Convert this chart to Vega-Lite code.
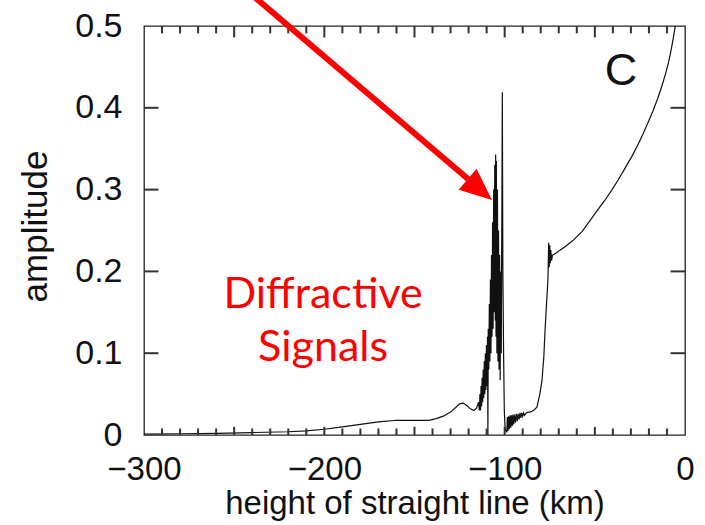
{
  "$schema": "https://vega.github.io/schema/vega-lite/v6.json",
  "width": 541,
  "height": 409,
  "autosize": {"type": "none"},
  "padding": {"left": 144, "top": 26, "right": 20, "bottom": 90},
  "background": "white",
  "config": {
    "view": {"stroke": "#222", "strokeWidth": 1.3},
    "axis": {
      "grid": false,
      "domain": false,
      "ticks": false,
      "tickSize": 0,
      "labelFont": "Liberation Sans",
      "titleFont": "Liberation Sans",
      "labelColor": "#111",
      "titleColor": "#111",
      "labelFontSize": 33,
      "titleFontSize": 33,
      "titleFontWeight": "normal"
    }
  },
  "datasets": {
    "curve": [
      {"x": -300, "y": 0.001}, {"x": -280, "y": 0.0015}, {"x": -260, "y": 0.002}, {"x": -240, "y": 0.003},
      {"x": -220, "y": 0.004}, {"x": -210, "y": 0.005}, {"x": -200, "y": 0.007}, {"x": -190, "y": 0.010},
      {"x": -180, "y": 0.013}, {"x": -170, "y": 0.016}, {"x": -160, "y": 0.018}, {"x": -150, "y": 0.018},
      {"x": -142, "y": 0.018}, {"x": -138, "y": 0.020}, {"x": -134, "y": 0.023}, {"x": -130, "y": 0.028},
      {"x": -127, "y": 0.034}, {"x": -125, "y": 0.038}, {"x": -123, "y": 0.039}, {"x": -121, "y": 0.036},
      {"x": -119, "y": 0.032}, {"x": -117, "y": 0.030}, {"x": -115.5, "y": 0.033}, {"x": -114.5, "y": 0.04},
      {"x": -114.0, "y": 0.03}, {"x": -113.7, "y": 0.05}, {"x": -113.4, "y": 0.03}, {"x": -113.1, "y": 0.06},
      {"x": -112.8, "y": 0.035}, {"x": -112.5, "y": 0.07}, {"x": -112.2, "y": 0.04}, {"x": -111.9, "y": 0.08},
      {"x": -111.6, "y": 0.045}, {"x": -111.3, "y": 0.09}, {"x": -111.0, "y": 0.05}, {"x": -110.7, "y": 0.10},
      {"x": -110.4, "y": 0.055}, {"x": -110.1, "y": 0.11}, {"x": -109.8, "y": 0.06}, {"x": -109.5, "y": 0.12},
      {"x": -109.3, "y": 0.0}, {"x": -109.1, "y": 0.13}, {"x": -108.8, "y": 0.08}, {"x": -108.5, "y": 0.16},
      {"x": -108.2, "y": 0.09}, {"x": -107.9, "y": 0.19}, {"x": -107.6, "y": 0.10}, {"x": -107.3, "y": 0.22},
      {"x": -107.0, "y": 0.12}, {"x": -106.7, "y": 0.26}, {"x": -106.4, "y": 0.13}, {"x": -106.1, "y": 0.30},
      {"x": -105.8, "y": 0.15}, {"x": -105.5, "y": 0.33}, {"x": -105.2, "y": 0.14}, {"x": -105.0, "y": 0.343},
      {"x": -104.8, "y": 0.12}, {"x": -104.6, "y": 0.335}, {"x": -104.3, "y": 0.10}, {"x": -104.0, "y": 0.30},
      {"x": -103.7, "y": 0.09}, {"x": -103.4, "y": 0.25}, {"x": -103.1, "y": 0.08}, {"x": -102.8, "y": 0.22},
      {"x": -102.5, "y": 0.067}, {"x": -102.2, "y": 0.20}, {"x": -101.9, "y": 0.10}, {"x": -101.5, "y": 0.30},
      {"x": -101.3, "y": 0.419}, {"x": -101.0, "y": 0.20}, {"x": -100.6, "y": 0.10}, {"x": -100.2, "y": 0.03},
      {"x": -99.8, "y": 0.01}, {"x": -99.4, "y": 0.005}, {"x": -98.8, "y": 0.004},
      {"x": -98.5, "y": 0.022}, {"x": -98.2, "y": 0.005}, {"x": -97.8, "y": 0.023}, {"x": -97.4, "y": 0.007},
      {"x": -97.0, "y": 0.024}, {"x": -96.6, "y": 0.009}, {"x": -96.2, "y": 0.024}, {"x": -95.8, "y": 0.011},
      {"x": -95.4, "y": 0.025}, {"x": -95.0, "y": 0.013}, {"x": -94.5, "y": 0.025}, {"x": -94.0, "y": 0.015},
      {"x": -93.5, "y": 0.026}, {"x": -93.0, "y": 0.017}, {"x": -92.5, "y": 0.026}, {"x": -92.0, "y": 0.019},
      {"x": -91.5, "y": 0.027}, {"x": -91.0, "y": 0.021}, {"x": -90.5, "y": 0.027}, {"x": -90.0, "y": 0.023},
      {"x": -89.5, "y": 0.027}, {"x": -89.0, "y": 0.024}, {"x": -88.0, "y": 0.027}, {"x": -87.0, "y": 0.028},
      {"x": -86.0, "y": 0.028}, {"x": -84.0, "y": 0.030}, {"x": -82.1, "y": 0.034}, {"x": -80.5, "y": 0.05},
      {"x": -79.3, "y": 0.067}, {"x": -78.3, "y": 0.095}, {"x": -77.6, "y": 0.128}, {"x": -76.8, "y": 0.16},
      {"x": -76.0, "y": 0.19}, {"x": -75.6, "y": 0.235}, {"x": -75.3, "y": 0.205}, {"x": -75.0, "y": 0.232},
      {"x": -74.7, "y": 0.21}, {"x": -74.4, "y": 0.226}, {"x": -74.0, "y": 0.213}, {"x": -73.5, "y": 0.22},
      {"x": -72.5, "y": 0.221}, {"x": -71.0, "y": 0.223}, {"x": -69.3, "y": 0.226}, {"x": -66.0, "y": 0.231},
      {"x": -62.0, "y": 0.238}, {"x": -57.0, "y": 0.249}, {"x": -52.7, "y": 0.262}, {"x": -48.5, "y": 0.275},
      {"x": -44.4, "y": 0.287}, {"x": -40.7, "y": 0.299}, {"x": -37.0, "y": 0.312}, {"x": -33.3, "y": 0.326},
      {"x": -29.6, "y": 0.340}, {"x": -26.3, "y": 0.354}, {"x": -23.1, "y": 0.369}, {"x": -20.3, "y": 0.383},
      {"x": -17.6, "y": 0.397}, {"x": -15.2, "y": 0.411}, {"x": -12.9, "y": 0.426}, {"x": -11.0, "y": 0.440},
      {"x": -9.3, "y": 0.454}, {"x": -8.0, "y": 0.467}, {"x": -7.0, "y": 0.479}, {"x": -6.2, "y": 0.489},
      {"x": -5.6, "y": 0.497}, {"x": -5.0, "y": 0.505}
    ],
    "xminor": [
      {"t": -290}, {"t": -280}, {"t": -270}, {"t": -260}, {"t": -240}, {"t": -230}, {"t": -220}, {"t": -210},
      {"t": -190}, {"t": -180}, {"t": -170}, {"t": -160}, {"t": -140}, {"t": -130}, {"t": -120}, {"t": -110},
      {"t": -90}, {"t": -80}, {"t": -70}, {"t": -60}, {"t": -40}, {"t": -30}, {"t": -20}, {"t": -10}
    ],
    "xmajor": [{"t": -250}, {"t": -200}, {"t": -150}, {"t": -100}, {"t": -50}],
    "yticks": [{"t": 0.1}, {"t": 0.2}, {"t": 0.3}, {"t": 0.4}],
    "arrow": [{"x": -240.1, "y": 0.538, "x2": -120.3, "y2": 0.313}],
    "head": [{"x": -113.8, "y": 0.300}],
    "labels": [
      {"x": -200.7, "y": 0.155, "text": "Diffractive"},
      {"x": -200.7, "y": 0.0905, "text": "Signals"}
    ],
    "panel": [{"x": -35.5, "y": 0.445, "text": "C"}]
  },
  "layer": [
    {
      "data": {"name": "curve"},
      "mark": {"type": "line", "color": "#111", "strokeWidth": 1.2, "clip": true, "interpolate": "linear"},
      "encoding": {
        "x": {
          "field": "x", "type": "quantitative",
          "scale": {"domain": [-300, 0], "nice": false, "zero": false},
          "axis": {
            "orient": "bottom",
            "values": [-300, -200, -100, 0],
            "labelPadding": 18,
            "labelExpr": "format(datum.value, 'd')",
            "labelFlush": false,
            "labelOverlap": false,
            "title": "height of straight line (km)",
            "titleFontSize": 33,
            "titleBaseline": "alphabetic",
            "titleAlign": "center",
            "titleX": 270.5,
            "titleY": 78
          }
        },
        "y": {
          "field": "y", "type": "quantitative",
          "scale": {"domain": [0, 0.5], "nice": false},
          "axis": {
            "orient": "left",
            "values": [0, 0.1, 0.2, 0.3, 0.4, 0.5],
            "labelPadding": 22,
            "labelFontSize": 34,
            "labelExpr": "datum.value == 0 ? '0' : format(datum.value, '.1f')",
            "labelFlush": false,
            "labelOverlap": false,
            "title": "amplitude",
            "titleFontSize": 35,
            "titleAngle": -90,
            "titleBaseline": "middle",
            "titleAlign": "center",
            "titleX": -109,
            "titleY": 200
          }
        }
      }
    },
    {
      "data": {"name": "xminor"},
      "mark": {"type": "rule", "color": "#333", "strokeWidth": 2},
      "encoding": {
        "x": {"field": "t", "type": "quantitative", "axis": null},
        "y": {"datum": 0, "type": "quantitative", "axis": null},
        "y2": {"datum": 0.008}
      }
    },
    {
      "data": {"name": "xminor"},
      "mark": {"type": "rule", "color": "#333", "strokeWidth": 2},
      "encoding": {
        "x": {"field": "t", "type": "quantitative", "axis": null},
        "y": {"datum": 0.5, "type": "quantitative", "axis": null},
        "y2": {"datum": 0.491}
      }
    },
    {
      "data": {"name": "xmajor"},
      "mark": {"type": "rule", "color": "#333", "strokeWidth": 2},
      "encoding": {
        "x": {"field": "t", "type": "quantitative", "axis": null},
        "y": {"datum": 0, "type": "quantitative", "axis": null},
        "y2": {"datum": 0.010}
      }
    },
    {
      "data": {"name": "xmajor"},
      "mark": {"type": "rule", "color": "#333", "strokeWidth": 2},
      "encoding": {
        "x": {"field": "t", "type": "quantitative", "axis": null},
        "y": {"datum": 0.5, "type": "quantitative", "axis": null},
        "y2": {"datum": 0.486}
      }
    },
    {
      "data": {"name": "yticks"},
      "mark": {"type": "rule", "color": "#333", "strokeWidth": 2},
      "encoding": {
        "y": {"field": "t", "type": "quantitative", "axis": null},
        "x": {"datum": -300, "type": "quantitative", "axis": null},
        "x2": {"datum": -292}
      }
    },
    {
      "data": {"name": "yticks"},
      "mark": {"type": "rule", "color": "#333", "strokeWidth": 2},
      "encoding": {
        "y": {"field": "t", "type": "quantitative", "axis": null},
        "x": {"datum": 0, "type": "quantitative", "axis": null},
        "x2": {"datum": -8}
      }
    },
    {
      "data": {"name": "arrow"},
      "mark": {"type": "rule", "color": "#fe0000", "strokeWidth": 6},
      "encoding": {
        "x": {"field": "x", "type": "quantitative", "axis": null},
        "y": {"field": "y", "type": "quantitative", "axis": null},
        "x2": {"field": "x2"},
        "y2": {"field": "y2"}
      }
    },
    {
      "data": {"name": "head"},
      "mark": {"type": "point", "shape": "M1,0L-1,-0.86L-1,0.86Z", "filled": true, "color": "#fe0000", "opacity": 1, "size": 1024, "angle": 40.5},
      "encoding": {
        "x": {"field": "x", "type": "quantitative", "axis": null},
        "y": {"field": "y", "type": "quantitative", "axis": null}
      }
    },
    {
      "data": {"name": "labels"},
      "mark": {"type": "text", "font": "Lato", "fontSize": 43, "color": "#fe0000", "align": "center", "baseline": "alphabetic"},
      "encoding": {
        "x": {"field": "x", "type": "quantitative", "axis": null},
        "y": {"field": "y", "type": "quantitative", "axis": null},
        "text": {"field": "text"}
      }
    },
    {
      "data": {"name": "panel"},
      "mark": {"type": "text", "font": "Liberation Sans", "fontSize": 45, "color": "#111", "align": "center", "baseline": "middle"},
      "encoding": {
        "x": {"field": "x", "type": "quantitative", "axis": null},
        "y": {"field": "y", "type": "quantitative", "axis": null},
        "text": {"field": "text"}
      }
    }
  ],
  "resolve": {"axis": {"x": "independent", "y": "independent"}}
}
